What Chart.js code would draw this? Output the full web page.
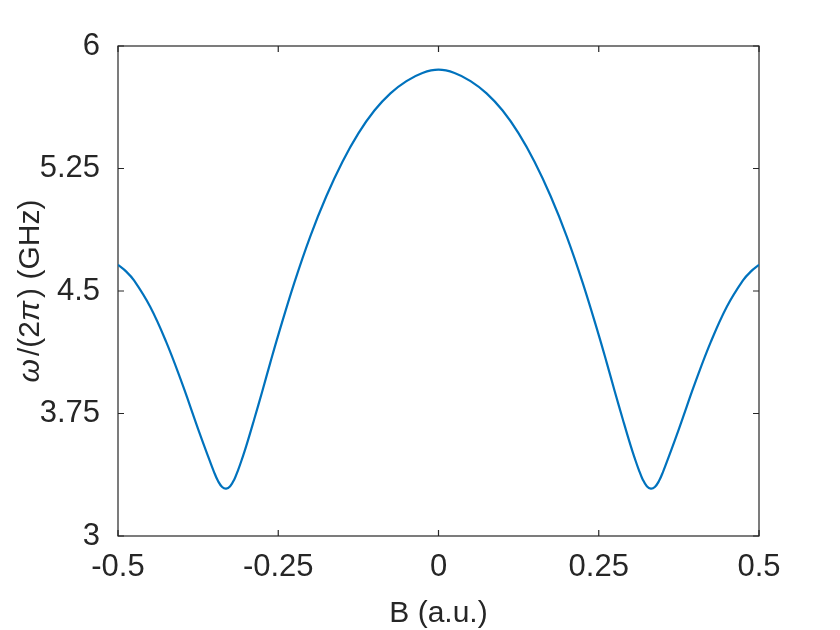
<!DOCTYPE html>
<html>
<head>
<meta charset="utf-8">
<script src="https://cdn.jsdelivr.net/npm/chart.js@4"></script>
<style>
  html, body { margin: 0; padding: 0; background: #fff; }
  #wrap { width: 840px; height: 630px; }
</style>
</head>
<body>
<div id="wrap"><canvas id="dispersion" width="840" height="630"></canvas></div>
<script>
// magnetic field (a.u.) and frequency omega/(2 pi) in GHz
var bField = [
  -0.5, -0.4875, -0.475, -0.45, -0.425, -0.4, -0.3875, -0.375, -0.3625, -0.35, -0.34375,
  -0.3375, -0.33125, -0.325, -0.31875, -0.3125, -0.30625, -0.3, -0.2875, -0.275, -0.2625,
  -0.25, -0.225, -0.2, -0.175, -0.15, -0.125, -0.1, -0.075, -0.05, -0.025,
  0,
  0.025, 0.05, 0.075, 0.1, 0.125, 0.15, 0.175, 0.2, 0.225, 0.25,
  0.2625, 0.275, 0.2875, 0.3, 0.30625, 0.3125, 0.31875, 0.325, 0.33125, 0.3375,
  0.34375, 0.35, 0.3625, 0.375, 0.3875, 0.4, 0.425, 0.45, 0.475, 0.4875, 0.5
];
var freqGHz = [
  4.66, 4.62, 4.565, 4.405, 4.19, 3.935, 3.795, 3.655, 3.52, 3.39, 3.335,
  3.30, 3.29, 3.305, 3.345, 3.405, 3.475, 3.55, 3.715, 3.885, 4.06,
  4.23, 4.55, 4.835, 5.08, 5.29, 5.465, 5.605, 5.71, 5.785, 5.835,
  5.855,
  5.835, 5.785, 5.71, 5.605, 5.465, 5.29, 5.08, 4.835, 4.55, 4.23,
  4.06, 3.885, 3.715, 3.55, 3.475, 3.405, 3.345, 3.305, 3.29, 3.30,
  3.335, 3.39, 3.52, 3.655, 3.795, 3.935, 4.19, 4.405, 4.565, 4.62, 4.66
];

// tick values and labels
var xTicks = [-0.5, -0.25, 0, 0.25, 0.5];
var xTickLabels = ["-0.5", "-0.25", "0", "0.25", "0.5"];
var yTicks = [3, 3.75, 4.5, 5.25, 6];
var yTickLabels = ["3", "3.75", "4.5", "5.25", "6"];

var axisColor = "#262626";
var fontFamily = "'Liberation Sans', Arial, Helvetica, sans-serif";

var points = bField.map(function (b, i) {
  return { x: b, y: freqGHz[i] };
});

// box round the plot with inward ticks on all four sides, like matlab
var boxPlugin = {
  id: "matlabBox",
  beforeDatasetsDraw: function (chart) {
    var c = chart.ctx;
    var a = chart.chartArea;
    var xs = chart.scales.x;
    var ys = chart.scales.y;
    var tl = 6;
    c.save();
    c.strokeStyle = axisColor;
    c.lineWidth = 1.2;
    c.strokeRect(a.left, a.top, a.right - a.left, a.bottom - a.top);
    c.beginPath();
    xTicks.forEach(function (v) {
      var px = xs.getPixelForValue(v);
      c.moveTo(px, a.bottom); c.lineTo(px, a.bottom - tl);
      c.moveTo(px, a.top); c.lineTo(px, a.top + tl);
    });
    yTicks.forEach(function (v) {
      var py = ys.getPixelForValue(v);
      c.moveTo(a.left, py); c.lineTo(a.left + tl, py);
      c.moveTo(a.right, py); c.lineTo(a.right - tl, py);
    });
    c.stroke();
    c.restore();
  },
  afterDraw: function (chart) {
    var c = chart.ctx;
    var a = chart.chartArea;
    c.save();
    c.fillStyle = axisColor;
    c.textBaseline = "middle";

    // x title
    c.font = "30px " + fontFamily;
    c.textAlign = "center";
    c.fillText("B (a.u.)", (a.left + a.right) / 2, 614);

    // y title with italic greek letters
    var parts = [
      { t: "\u03c9", it: true },
      { t: "/(2", it: false },
      { t: "\u03c0", it: true },
      { t: ") (GHz)", it: false }
    ];
    var fontOf = function (p) {
      return (p.it ? "italic " : "") + "30px " + fontFamily;
    };
    var total = 0;
    parts.forEach(function (p) {
      c.font = fontOf(p);
      p.w = c.measureText(p.t).width + (p.it ? 3 : 0);
      total += p.w;
    });
    c.translate(31, (a.top + a.bottom) / 2);
    c.rotate(-Math.PI / 2);
    c.textAlign = "left";
    var x0 = -total / 2;
    parts.forEach(function (p) {
      c.font = fontOf(p);
      c.fillText(p.t, x0, 0);
      x0 += p.w;
    });
    c.restore();
  }
};

var chart = new Chart(document.getElementById("dispersion").getContext("2d"), {
  type: "line",
  data: {
    datasets: [
      {
        data: points,
        borderColor: "#0072BD",
        borderWidth: 2.2,
        pointRadius: 0,
        fill: false,
        tension: 0.4
      }
    ]
  },
  options: {
    responsive: false,
    animation: false,
    devicePixelRatio: 1,
    layout: { padding: { left: 0, right: 81, top: 46, bottom: 0 } },
    plugins: {
      legend: { display: false },
      tooltip: { enabled: false }
    },
    scales: {
      x: {
        type: "linear",
        min: -0.5,
        max: 0.5,
        grid: { display: false, drawTicks: false },
        border: { display: false },
        afterFit: function (s) { s.height = 94; },
        afterBuildTicks: function (s) {
          s.ticks = xTicks.map(function (v) { return { value: v }; });
        },
        ticks: {
          padding: 13,
          maxRotation: 0,
          autoSkip: false,
          color: axisColor,
          font: { family: fontFamily, size: 31 },
          callback: function (v) { return xTickLabels[xTicks.indexOf(v)]; }
        }
      },
      y: {
        type: "linear",
        min: 3,
        max: 6,
        grid: { display: false, drawTicks: false },
        border: { display: false },
        afterFit: function (s) { s.width = 118; },
        afterBuildTicks: function (s) {
          s.ticks = yTicks.map(function (v) { return { value: v }; });
        },
        ticks: {
          padding: 18,
          autoSkip: false,
          color: axisColor,
          font: { family: fontFamily, size: 31 },
          callback: function (v) { return yTickLabels[yTicks.indexOf(v)]; }
        }
      }
    }
  },
  plugins: [boxPlugin]
});
</script>
</body>
</html>
